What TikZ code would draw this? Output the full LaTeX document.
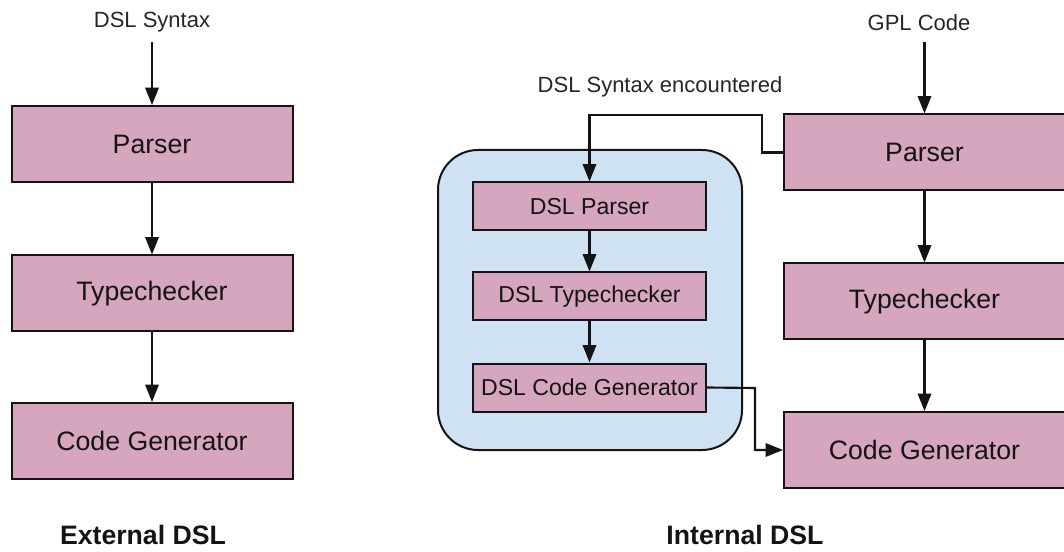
\documentclass[tikz,border=0pt]{standalone}
\usepackage{fontspec}
\setmainfont{Liberation Sans}
\usetikzlibrary{arrows.meta}
\definecolor{boxpink}{HTML}{D5A6BD}
\definecolor{boxblue}{HTML}{CFE2F3}
\definecolor{edge}{HTML}{141414}
\tikzset{
  x=0.75pt, y=-0.75pt,
  bigbox/.style={draw=edge, line width=1.5pt, fill=boxpink, minimum width=281*0.75pt, minimum height=76*0.75pt, inner sep=0pt, font=\fontsize{20}{24}\selectfont, text=black!92},
  smallbox/.style={draw=edge, line width=1.5pt, fill=boxpink, minimum width=233*0.75pt, minimum height=48*0.75pt, inner sep=0pt, font=\fontsize{17.3}{21}\selectfont, text=black!92},
  lbl/.style={inner sep=0pt, font=\fontsize{16.5}{20}\selectfont, text=black!85},
  ttl/.style={inner sep=0pt, font=\bfseries\fontsize{20}{24}\selectfont, text=black!92},
  arr/.style={draw=edge, line width=1.6pt, -{Triangle[length=13pt,width=10pt]}},
  conn/.style={draw=edge, line width=1.6pt}
}
\begin{document}
\begin{tikzpicture}
\clip (0,0) rectangle (1064,552);
\fill[white] (0,0) rectangle (1064,552);

% External DSL
\node[lbl] (lsyn) at (152,22) {DSL Syntax};
\coordinate (ls) at (152,42);
\node[bigbox] (lparser) at (152,144) {Parser};
\node[bigbox] (ltype) at (152,293.5) {Typechecker};
\node[bigbox] (lcode) at (152,441) {Code Generator};
\node[ttl] (lttl) at (143,535) {External DSL};
\draw[arr] (ls) -- (lparser.north);
\draw[arr] (lparser.south) -- (ltype.north);
\draw[arr] (ltype.south) -- (lcode.north);

% Internal DSL
\node[draw=edge, line width=1.5pt, fill=boxblue, rounded corners=30pt, minimum width=304*0.75pt, minimum height=300*0.75pt, inner sep=0pt] (cont) at (590,300) {};
\node[smallbox] (dslp) at (589.5,206.5) {DSL Parser};
\node[smallbox] (dslt) at (589.5,296.5) {DSL Typechecker};
\node[smallbox] (dslc) at (589.5,387.5) {DSL Code Generator};
\draw[arr] (dslp.south) -- (dslt.north);
\draw[arr] (dslt.south) -- (dslc.north);

\node[lbl] (gpl) at (919,23) {GPL Code};
\coordinate (gs) at (924.5,42);
\node[bigbox] (rparser) at (924.5,152.5) {Parser};
\node[bigbox] (rtype) at (924.5,301.5) {Typechecker};
\node[bigbox] (rcode) at (924.5,450) {Code Generator};
\draw[arr] (gs) -- (rparser.north);
\draw[arr] (rparser.south) -- (rtype.north);
\draw[arr] (rtype.south) -- (rcode.north);

\node[lbl] (enc) at (660,87) {DSL Syntax encountered};
\coordinate (fb) at (762,115);
\draw[arr] (rparser.west) -| (fb) -| (dslp.north);
\coordinate (oc) at (755,388);
\draw[arr] (dslc.east) -- (oc) |- (rcode.west);

\node[ttl] (rttl) at (745,535) {Internal DSL};
\end{tikzpicture}
\end{document}
